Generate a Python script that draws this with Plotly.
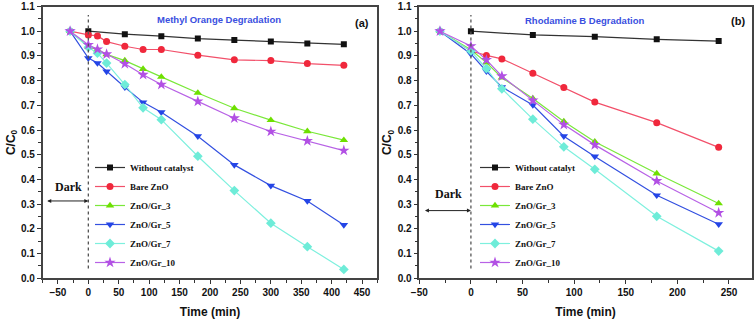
import plotly.graph_objects as go

# ---------------- data ----------------
names_a = ["Without catalyst", "Bare ZnO", "ZnO/Gr_3", "ZnO/Gr_5", "ZnO/Gr_7", "ZnO/Gr_10"]
names_b = ["Without catalyt", "Bare ZnO", "ZnO/Gr_3", "ZnO/Gr_5", "ZnO/Gr_7", "ZnO/Gr_10"]

# Methyl orange (a)
t_a_black = [0, 60, 120, 180, 240, 300, 360, 420]
t_a = [-30, 0, 15, 30, 60, 90, 120, 180, 240, 300, 360, 420]
a_black = [1.0, 0.988, 0.980, 0.970, 0.964, 0.958, 0.950, 0.947]
a_red = [1.0, 0.985, 0.981, 0.958, 0.939, 0.926, 0.926, 0.903, 0.884, 0.881, 0.869, 0.862]
a_green = [1.0, 0.937, 0.925, 0.906, 0.881, 0.847, 0.815, 0.750, 0.688, 0.640, 0.595, 0.559]
a_blue = [1.0, 0.891, 0.871, 0.837, 0.773, 0.712, 0.672, 0.575, 0.459, 0.375, 0.313, 0.216]
a_cyan = [1.0, 0.935, 0.911, 0.871, 0.784, 0.690, 0.642, 0.494, 0.355, 0.223, 0.128, 0.036]
a_purple = [1.0, 0.945, 0.927, 0.907, 0.868, 0.824, 0.784, 0.716, 0.648, 0.594, 0.556, 0.517]

# Rhodamine B (b)
t_b_black = [0, 60, 120, 180, 240]
t_b = [-30, 0, 15, 30, 60, 90, 120, 180, 240]
b_black = [1.0, 0.985, 0.978, 0.967, 0.960]
b_red = [1.0, 0.920, 0.902, 0.888, 0.830, 0.772, 0.713, 0.630, 0.530]
b_green = [1.0, 0.925, 0.873, 0.812, 0.728, 0.635, 0.553, 0.424, 0.303]
b_blue = [1.0, 0.908, 0.838, 0.774, 0.701, 0.575, 0.493, 0.336, 0.219]
b_cyan = [1.0, 0.920, 0.849, 0.767, 0.644, 0.532, 0.441, 0.251, 0.110]
b_purple = [1.0, 0.940, 0.884, 0.818, 0.720, 0.622, 0.540, 0.394, 0.265]

x_ticks_a = [-50, 0, 50, 100, 150, 200, 250, 300, 350, 400, 450]
x_ticks_b = [-50, 0, 50, 100, 150, 200, 250]
y_ticks = [0.0, 0.1, 0.2, 0.3, 0.4, 0.5, 0.6, 0.7, 0.8, 0.9, 1.0, 1.1]

# ---------------- style ----------------
colors = ["#111111", "#f0283c", "#6ee000", "#2445e6", "#6eecd8", "#b250e4"]
line_colors = ["#333333", "#f2506a", "#7ae83a", "#3350e0", "#7ef0de", "#b862e6"]
symbols = ["square", "circle", "triangle-up", "triangle-down", "diamond", "star"]
sizes = [6, 7, 7.5, 7.5, 7.5, 8.5]

W, H = 756, 319
def px_x(p):
    return p / W
def px_y(p):
    return 1 - p / H

fig = go.Figure()

series_a = [(t_a_black, a_black), (t_a, a_red), (t_a, a_green), (t_a, a_blue), (t_a, a_cyan), (t_a, a_purple)]
series_b = [(t_b_black, b_black), (t_b, b_red), (t_b, b_green), (t_b, b_blue), (t_b, b_cyan), (t_b, b_purple)]

for i, (t, v) in enumerate(series_a):
    fig.add_trace(go.Scatter(
        x=t, y=v, name=names_a[i], mode="lines+markers",
        line=dict(color=line_colors[i], width=1.2),
        marker=dict(symbol=symbols[i], size=sizes[i], color=colors[i], line=dict(width=0)),
        xaxis="x", yaxis="y", legend="legend"))
for i, (t, v) in enumerate(series_b):
    fig.add_trace(go.Scatter(
        x=t, y=v, name=names_b[i], mode="lines+markers",
        line=dict(color=line_colors[i], width=1.2),
        marker=dict(symbol=symbols[i], size=sizes[i], color=colors[i], line=dict(width=0)),
        xaxis="x2", yaxis="y2", legend="legend2"))

tick_font = dict(family="Liberation Sans, Arial", size=10, color="#111111", weight="bold")
title_font = dict(family="Liberation Sans, Arial", size=12, color="#111111", weight="bold")

def xaxis(domain, rng, ticks, anchor):
    return dict(domain=domain, range=rng, tickvals=ticks, ticks="outside", ticklen=4,
                tickwidth=1.2, tickcolor="#333", showline=True, mirror=True, linecolor="#444",
                linewidth=1.5, showgrid=False, zeroline=False, tickfont=tick_font, automargin=False,
                minor=dict(dtick=25, ticks="outside", ticklen=2.5, tickcolor="#333", tickwidth=1),
                title=dict(text="Time (min)", font=title_font, standoff=13), anchor=anchor)

def yaxis(domain, anchor):
    return dict(domain=domain, range=[0, 1.1], tickvals=y_ticks,
                ticktext=[f"{v:.1f}" for v in y_ticks], ticks="outside", ticklen=4,
                tickwidth=1.2, tickcolor="#333", showline=True, mirror=True, linecolor="#444",
                linewidth=1.5, showgrid=False, zeroline=False, tickfont=tick_font, automargin=False,
                minor=dict(dtick=0.05, ticks="outside", ticklen=2.5, tickcolor="#333", tickwidth=1),
                title=dict(text="C/C<sub>0</sub>", font=title_font, standoff=3), anchor=anchor)

ydom = [px_y(278.3), px_y(6.5)]
legend_font = dict(family="Liberation Serif, Times New Roman", size=9, color="#111", weight="bold")
fig.update_layout(
    width=W, height=H, margin=dict(l=0, r=0, t=0, b=0, autoexpand=False),
    paper_bgcolor="white", plot_bgcolor="white",
    xaxis=xaxis([px_x(42.7), px_x(377.3)], [-75, 475], x_ticks_a, "y"),
    yaxis=yaxis(ydom, "x"),
    xaxis2=xaxis([px_x(419.3), px_x(751.7)], [-50, 272], x_ticks_b, "y2"),
    yaxis2=yaxis(ydom, "x2"),
    legend=dict(x=px_x(90), y=px_y(277), xanchor="left", yanchor="bottom",
                bgcolor="rgba(0,0,0,0)", font=legend_font, itemwidth=30, tracegroupgap=0),
    legend2=dict(x=px_x(475), y=px_y(277), xanchor="left", yanchor="bottom",
                 bgcolor="rgba(0,0,0,0)", font=legend_font, itemwidth=30, tracegroupgap=0),
    showlegend=True,
)

# dotted dark/light boundary at t = 0
for xr, yr in [("x", "y"), ("x2", "y2")]:
    fig.add_shape(type="line", xref=xr, yref=yr, x0=0, x1=0, y0=0.04, y1=1.066,
                  line=dict(color="#555", width=1.3, dash="dot"))

# Dark arrows and labels
serif_bold = dict(family="Liberation Serif, Times New Roman", size=12, color="#111", weight="bold")
for xr, yr, x0, ya, xt, yt in [("x", "y", -70, 0.313, -33, 0.368), ("x2", "y2", -46, 0.274, -22, 0.343)]:
    fig.add_annotation(xref=xr, yref=yr, x=0, y=ya, ax=x0, ay=ya, axref=xr, ayref=yr,
                       text="", showarrow=True, arrowhead=2, arrowside="end+start",
                       arrowsize=0.8, arrowwidth=1, arrowcolor="#222")
    fig.add_annotation(xref=xr, yref=yr, x=xt, y=yt, text="Dark", showarrow=False, font=serif_bold)

blue_title = dict(family="Liberation Sans, Arial", size=9.5, color="#3a4fe0", weight="bold")
panel_font = dict(family="Liberation Sans, Arial", size=11, color="#111", weight="bold")
fig.add_annotation(xref="x", yref="y", x=215, y=1.046, text="Methyl Orange Degradation",
                   showarrow=False, font=blue_title)
fig.add_annotation(xref="x", yref="y", x=450, y=1.033, text="(a)", showarrow=False, font=panel_font)
fig.add_annotation(xref="x2", yref="y2", x=110, y=1.045, text="Rhodamine B Degradation",
                   showarrow=False, font=blue_title)
fig.add_annotation(xref="x2", yref="y2", x=259, y=1.042, text="(b)", showarrow=False, font=panel_font)

fig.write_html("out.html", config={"displayModeBar": False},
               post_script="document.body.style.margin='0';document.body.style.overflow='hidden';")
